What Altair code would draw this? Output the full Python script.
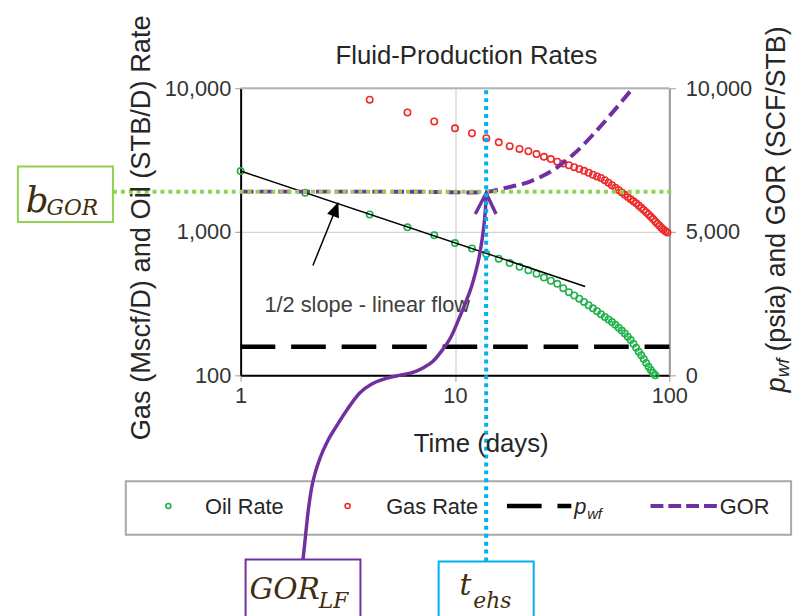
import altair as alt
import pandas as pd

# ---------------- data ----------------
oil_t = [1, 2, 4, 6, 8, 10, 12, 14, 16, 18, 20, 22, 24, 26, 28, 30, 32, 34, 36, 38, 40,
         42, 44, 46, 48, 50, 52, 54, 56, 58, 60, 62, 64, 66, 68, 70, 72, 74, 76, 78, 80,
         82, 84, 86]
oil_q = [2650, 1870, 1320, 1075, 945, 835, 765, 700, 650, 606, 570, 540, 510, 480, 456,
         434, 405, 380, 360, 342, 325, 308, 293, 280, 267, 255, 245, 235, 225, 215, 205,
         196, 186, 176, 166, 156, 146, 138, 130, 122, 115, 109, 104, 100]

gas_t = [4, 6, 8, 10, 12, 14, 16, 18, 20, 22, 24, 26, 28, 30, 32, 34, 36, 38, 40, 42,
         44, 46, 48, 50, 52, 54, 56, 58, 60, 62, 64, 66, 68, 70, 72, 74, 76, 78, 80, 82,
         84, 86, 88, 90, 92, 94, 96, 98]
gas_q = [8330, 6780, 5870, 5260, 4860, 4490, 4200, 3950, 3780, 3640, 3480, 3330, 3210,
         3080, 2990, 2910, 2820, 2740, 2660, 2580, 2500, 2430, 2370, 2290, 2200, 2110,
         2030, 1955, 1880, 1810, 1745, 1685, 1630, 1580, 1525, 1470, 1420, 1370, 1320,
         1272, 1226, 1182, 1140, 1100, 1065, 1035, 1010, 990]

gor_t = [1, 4, 8, 12, 14, 17, 22.5, 29, 35.6, 44, 54.5, 67.5]
gor_v = [6400, 6400, 6390, 6370, 6390, 6520, 6760, 7170, 7690, 8380, 9170, 10000]

pwf_t = [1, 100]
pwf_v = [1000, 1000]

fit_t = [1, 40.5]
fit_q = [2650, 416]

x_ticks = [1, 10, 100]
yl_ticks = [100, 1000, 10000]
yr_ticks = [0, 5000, 10000]

# ---------------- styling ----------------
SANS = "Liberation Sans"
SERIF = "DejaVu Serif"
GREEN = "#22b24c"
RED = "#ee2a2a"
PURPLE = "#7030a0"
LGREEN = "#92d050"
BLUE = "#00b0f0"
BROWN = "#3f2d0f"
TXT = "#262626"

OX, OY = 243, 86          # page position of the plot origin
W, H = 433, 290

xscale = alt.Scale(type="log", domain=[1, 100], nice=False)
ylscale = alt.Scale(type="log", domain=[100, 10000], nice=False)
yrscale = alt.Scale(domain=[0, 10000], nice=False)

FMT = "format(datum.value, ',')"

xaxis = alt.Axis(values=x_ticks, labelExpr=FMT, title=None, labelFont=SANS, labelFontSize=22,
                 labelColor="#333333", tickColor="#999999", tickSize=6, domainColor="black",
                 domainWidth=2, grid=True, gridColor="#c8c8c8", gridWidth=1, labelPadding=4,
                 labelFlush=False)
ylaxis = alt.Axis(orient="left", values=yl_ticks, labelExpr=FMT, title=None, labelFont=SANS,
                  labelFontSize=22, labelColor="#333333", tickColor="#999999", tickSize=6,
                  domainColor="black", domainWidth=2, grid=True, gridColor="#c8c8c8",
                  gridWidth=1, labelPadding=4)
yraxis = alt.Axis(orient="right", values=yr_ticks, labelExpr=FMT, title=None, labelFont=SANS,
                  labelFontSize=22, labelColor="#333333", tickColor="#999999", tickSize=6,
                  domainColor="#999999", domainWidth=2, grid=False, labelPadding=10)

X = alt.X("t:Q", scale=xscale, axis=xaxis)

oil = alt.Chart(pd.DataFrame({"t": oil_t, "q": oil_q})).mark_point(
    shape="circle", filled=False, size=42, strokeWidth=1.6, color=GREEN, opacity=1
).encode(x=X, y=alt.Y("q:Q", scale=ylscale, axis=ylaxis))

gas = alt.Chart(pd.DataFrame({"t": gas_t, "q": gas_q})).mark_point(
    shape="circle", filled=False, size=42, strokeWidth=1.6, color=RED, opacity=1
).encode(x=X, y=alt.Y("q:Q", scale=ylscale, axis=ylaxis))

fit = alt.Chart(pd.DataFrame({"t": fit_t, "q": fit_q})).mark_line(
    color="black", strokeWidth=1.5
).encode(x=X, y=alt.Y("q:Q", scale=ylscale, axis=ylaxis))

pwf = alt.Chart(pd.DataFrame({"t": pwf_t, "v": pwf_v})).mark_line(
    color="black", strokeWidth=4.5, strokeDash=[35, 16]
).encode(x=X, y=alt.Y("v:Q", scale=yrscale, axis=yraxis))

gor = alt.Chart(pd.DataFrame({"t": gor_t, "v": gor_v})).mark_line(
    color=PURPLE, strokeWidth=4, strokeDash=[13, 6], interpolate="monotone"
).encode(x=X, y=alt.Y("v:Q", scale=yrscale, axis=yraxis))

left = alt.layer(oil, gas, fit)
right = alt.layer(pwf, gor)

# ---------------- annotation helpers (pixel positions) ----------------
PX = alt.X("x:Q", scale=None, axis=None)
PY = alt.Y("y:Q", scale=None, axis=None)


def text(x, y, s, size, color=TXT, font=SANS, style="normal", align="left",
         baseline="alphabetic", angle=0):
    df = pd.DataFrame({"x": [x - OX], "y": [y - OY], "s": [s]})
    return alt.Chart(df).mark_text(
        align=align, baseline=baseline, fontSize=size, font=font, fontStyle=style,
        color=color, angle=angle
    ).encode(x=PX, y=PY, text="s:N")


def path(pts, color, width, dash=None, interp="linear"):
    df = pd.DataFrame({"x": [p[0] - OX for p in pts], "y": [p[1] - OY for p in pts],
                       "o": list(range(len(pts)))})
    kw = dict(color=color, strokeWidth=width, interpolate=interp, strokeCap="butt")
    if dash:
        kw["strokeDash"] = dash
    return alt.Chart(df).mark_line(**kw).encode(x=PX, y=PY, order="o:Q")


def box(x1, y1, x2, y2, stroke, width=2, fill="white"):
    df = pd.DataFrame({"x": [x1 - OX], "x2": [x2 - OX], "y": [y1 - OY], "y2": [y2 - OY]})
    return alt.Chart(df).mark_rect(fill=fill, stroke=stroke, strokeWidth=width).encode(
        x=PX, x2="x2:Q", y=PY, y2="y2:Q")


def dot(x, y, color, size=25):
    df = pd.DataFrame({"x": [x - OX], "y": [y - OY]})
    return alt.Chart(df).mark_point(shape="circle", filled=False, size=size,
                                    strokeWidth=1.6, color=color, opacity=1).encode(x=PX, y=PY)


layers = []
# legend frame
layers.append(box(127, 483, 799, 537, "#a8a8a8", 2))
layers += [left, right]
# top frame line
layers.append(path([(243, 86), (676, 86)], "#b4b4b4", 2))

# bGOR dotted line
layers.append(path([(114, 190.5), (681, 190.5)], LGREEN, 4, dash=[4, 4]))

# black arrow + caption
layers.append(path([(316, 265), (337, 213)], "black", 1.5))
arrow_head = alt.Chart(pd.DataFrame({"x": [339 - OX], "y": [208 - OY]})).mark_point(
    shape="M0,-1L0.85,1L-0.85,1Z", filled=True, size=225, color="black", opacity=1, angle=21
).encode(x=PX, y=PY)
layers.append(arrow_head)
layers.append(text(267, 312, "1/2 slope - linear flow", 22, color="#404040"))

# legend content
layers.append(dot(170, 508, GREEN))
layers.append(text(207, 516, "Oil Rate", 22))
layers.append(dot(351, 508, RED))
layers.append(text(390, 516, "Gas Rate", 22))
layers.append(path([(512, 508), (577, 508)], "black", 4.5, dash=[35, 16]))
layers.append(text(580, 516, "p", 22, style="italic"))
layers.append(text(593, 521, "wf", 15, style="italic"))
layers.append(path([(657, 508), (726, 508)], PURPLE, 4, dash=[13, 5]))
layers.append(text(727, 516, "GOR", 22))

# purple curved arrow
curve = [(306, 562), (307.5, 548), (311, 515), (315, 488), (319, 472), (323, 460),
         (331, 442), (340, 427), (351, 410), (363, 394), (375, 385), (387, 380),
         (403, 376), (417, 373), (428, 368), (437, 362), (447, 350), (455, 338),
         (463, 320), (470, 303), (476, 287), (480, 273), (484, 256), (487, 238),
         (489, 222), (490.3, 207), (491, 193)]
layers.append(path(curve, PURPLE, 3.5, interp="monotone"))
layers.append(path([(480, 213), (491, 192), (501, 213)], PURPLE, 3.5))

# blue t_ehs dotted line
layers.append(path([(491, 88), (491, 564)], BLUE, 4, dash=[4, 4]))

# boxes
layers.append(box(18, 165, 114, 221, LGREEN))
layers.append(box(248, 562, 364, 640, PURPLE))
layers.append(box(443, 564, 539, 640, BLUE))
layers.append(text(26, 211, "b", 36, color=BROWN, font=SERIF, style="italic"))
layers.append(text(47, 214, "GOR", 22, color=BROWN, font=SERIF, style="italic"))
layers.append(text(252, 602, "GOR", 30, color=BROWN, font=SERIF, style="italic"))
layers.append(text(322, 611, "LF", 22, color=BROWN, font=SERIF, style="italic"))
layers.append(text(464, 598, "t", 30, color=BROWN, font=SERIF, style="italic"))
layers.append(text(478, 611, "ehs", 22, color=BROWN, font=SERIF, style="italic"))

# titles
layers.append(text(471, 61, "Fluid-Production Rates", 26, align="center"))
layers.append(text(486, 453, "Time (days)", 26, align="center"))
layers.append(text(151, 227, "Gas (Mscf/D) and Oil (STB/D) Rate", 27.5, align="center",
                   angle=270))
layers.append(text(793, 393, "p", 27, style="italic", angle=270))
layers.append(text(797, 378, "wf", 19, style="italic", angle=270))
layers.append(text(793, 352, "(psia) and GOR (SCF/STB)", 27, angle=270))

chart = alt.layer(*layers).resolve_scale(y="independent").properties(
    width=W, height=H,
    padding={"left": 235, "top": 78, "right": 132, "bottom": 240},
    autosize=alt.AutoSizeParams(type="none"),
).configure_view(stroke=None)

chart.save("out.html", embed_options={"renderer": "svg", "actions": False})
